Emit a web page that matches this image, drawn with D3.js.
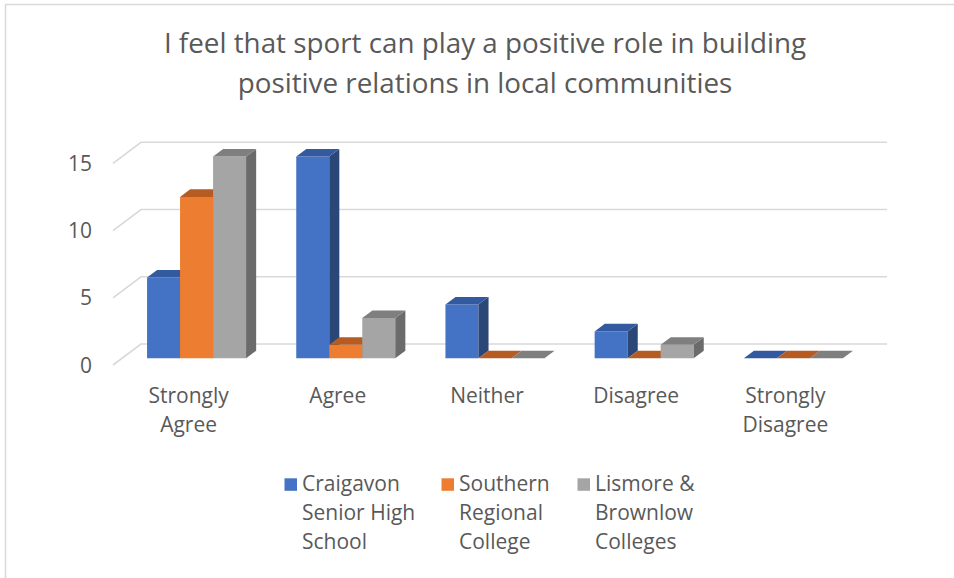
<!DOCTYPE html>
<html>
<head>
<meta charset="utf-8">
<script src="https://cdn.jsdelivr.net/npm/d3@7/dist/d3.min.js"></script>
<style>
  html, body { margin: 0; padding: 0; background: #ffffff; }
  svg { display: block; }
  text { font-family: "Open Sans", "Noto Sans", sans-serif; fill: #595959; }
</style>
</head>
<body>
<svg id="chart" width="954" height="578"></svg>
<script>
// Survey responses per school
const categories = ["Strongly Agree", "Agree", "Neither", "Disagree", "Strongly Disagree"];
const seriesNames = ["Craigavon Senior High School", "Southern Regional College", "Lismore & Brownlow Colleges"];
const legendLines = [
  ["Craigavon", "Senior High", "School"],
  ["Southern", "Regional", "College"],
  ["Lismore &", "Brownlow", "Colleges"]
];
const craigavon = [6, 15, 4, 2, 0];
const southern  = [12, 1, 0, 0, 0];
const lismore   = [15, 3, 0, 1, 0];
const yTicks = [0, 5, 10, 15];
const titleLines = [
  "I feel that sport can play a positive role in building",
  "positive relations in local communities"
];

const seriesValues = [craigavon, southern, lismore];
const faceColors = ["#4472c4", "#ed7d31", "#a5a5a5"];
const topColors  = ["#335a9f", "#b65c22", "#7f7f7f"];
const sideColors = ["#2b4778", "#9a4e1c", "#6b6b6b"];

const svg = d3.select("#chart");

// Chart area border
svg.append("rect")
  .attr("x", 5.5).attr("y", 4.5)
  .attr("width", 1200).attr("height", 1200)
  .attr("fill", "none").attr("stroke", "#d9d9d9").attr("stroke-width", 1.5);

// Front plane scales, plus an oblique depth offset for the 3D look
const x = d3.scaleBand().domain(categories).range([113, 859]).padding(0);
const xs = d3.scaleBand().domain(seriesNames).range([0, x.bandwidth()])
  .paddingInner(0).paddingOuter(0.76);
const y = d3.scaleLinear().domain([0, 15]).range([365, 163.3]);
const DX = 28, DY = 21;
const proj = (px, py, d) => [px + d * DX, py - d * DY];
const poly = pts => pts.map(p => p.join(",")).join(" ");

// Gridlines: side wall diagonal then back wall
const gridG = svg.append("g");
const xMin = x.range()[0], xMax = x.range()[1];
yTicks.forEach(t => {
  const pts = [proj(xMin, y(t), 0), proj(xMin, y(t), 1), proj(xMax, y(t), 1)];
  gridG.append("polyline")
    .attr("points", poly(pts))
    .attr("fill", "none")
    .attr("stroke", "#d9d9d9")
    .attr("stroke-width", 1.6);
});

// Value axis labels
svg.append("g").selectAll("text").data(yTicks).join("text")
  .attr("x", 92)
  .attr("y", d => y(d))
  .attr("dy", "0.36em")
  .attr("text-anchor", "end")
  .attr("font-size", 21)
  .text(d => d);

// 3D columns, drawn left to right so each bar hides its neighbour's side face
const D0 = 0.32, D1 = 0.68;
const barsG = svg.append("g");
categories.forEach((cat, i) => {
  seriesNames.forEach((s, j) => {
    const v = seriesValues[j][i];
    const x0 = x(cat) + xs(s);
    const x1 = x0 + xs.bandwidth();
    const yb = y(0), yt = y(v);
    const g = barsG.append("g");
    if (v > 0) {
      g.append("polygon")
        .attr("points", poly([proj(x0, yt, D0), proj(x1, yt, D0), proj(x1, yb, D0), proj(x0, yb, D0)]))
        .attr("fill", faceColors[j]);
      g.append("polygon")
        .attr("points", poly([proj(x1, yt, D0), proj(x1, yt, D1), proj(x1, yb, D1), proj(x1, yb, D0)]))
        .attr("fill", sideColors[j]);
    }
    g.append("polygon")
      .attr("points", poly([proj(x0, yt, D0), proj(x1, yt, D0), proj(x1, yt, D1), proj(x0, yt, D1)]))
      .attr("fill", topColors[j]);
  });
});

// Category labels, wrapped one word per line
const catG = svg.append("g");
categories.forEach(cat => {
  const words = cat.split(" ");
  const t = catG.append("text")
    .attr("x", x(cat) + x.bandwidth() / 2 + 1)
    .attr("y", 403)
    .attr("text-anchor", "middle")
    .attr("font-size", 21);
  words.forEach((w, k) => {
    t.append("tspan")
      .attr("x", x(cat) + x.bandwidth() / 2 + 1)
      .attr("dy", k === 0 ? 0 : 29)
      .text(w);
  });
});

// Title
const titleG = svg.append("text")
  .attr("x", 485)
  .attr("y", 53)
  .attr("text-anchor", "middle")
  .attr("font-size", 27.8);
titleLines.forEach((line, k) => {
  titleG.append("tspan").attr("x", 485).attr("dy", k === 0 ? 0 : 39.5).text(line);
});

// Legend
const legendX = [284.5, 441.5, 577.5];
const legendG = svg.append("g");
seriesNames.forEach((s, j) => {
  legendG.append("rect")
    .attr("x", legendX[j]).attr("y", 478.3)
    .attr("width", 12.5).attr("height", 12.5)
    .attr("fill", faceColors[j]);
  const t = legendG.append("text")
    .attr("x", legendX[j] + 17.5)
    .attr("y", 490.7)
    .attr("font-size", 21);
  legendLines[j].forEach((line, k) => {
    t.append("tspan").attr("x", legendX[j] + 17.5).attr("dy", k === 0 ? 0 : 29.3).text(line);
  });
});
</script>
</body>
</html>
